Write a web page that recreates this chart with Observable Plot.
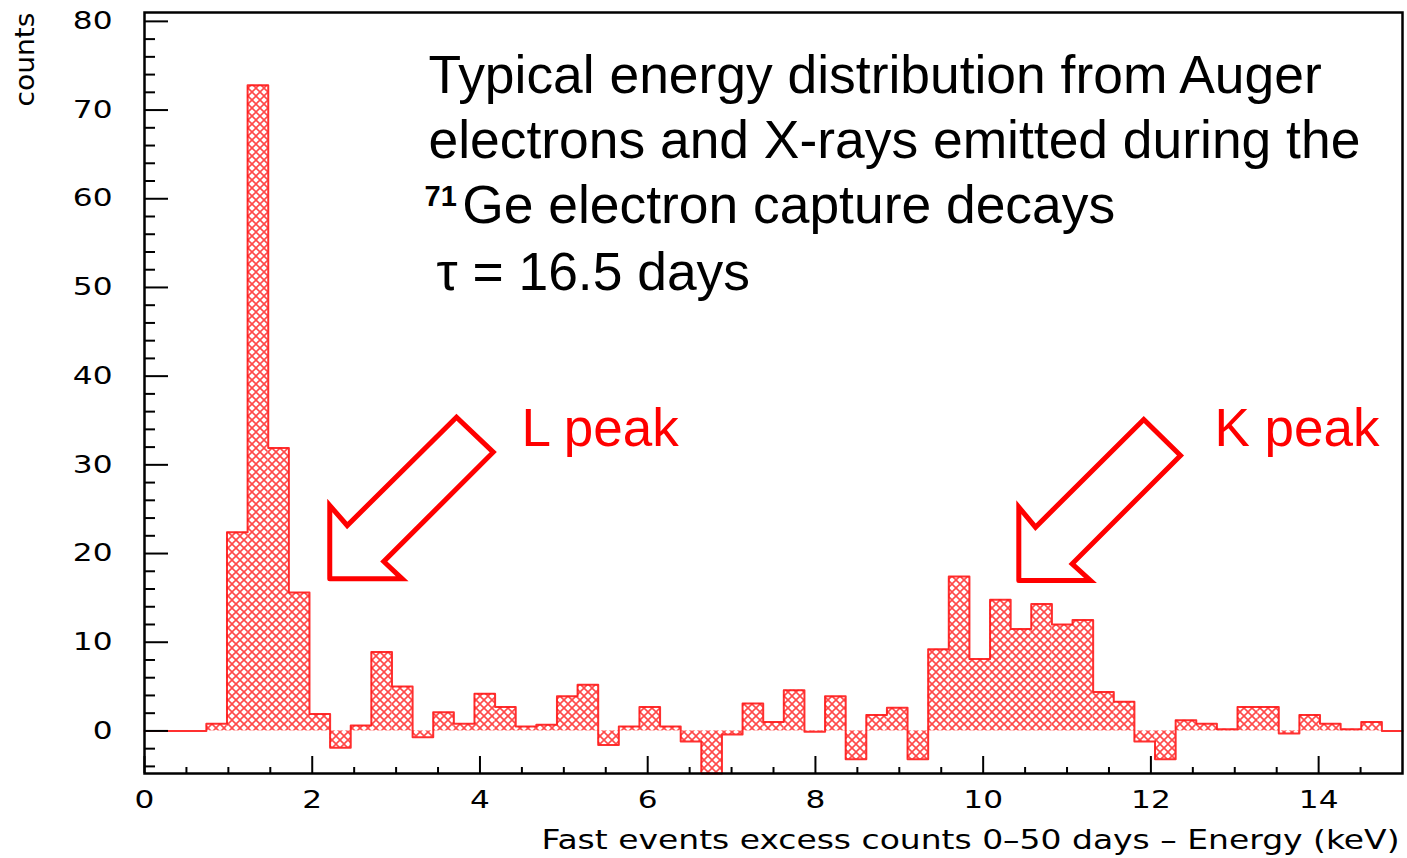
<!DOCTYPE html>
<html>
<head>
<meta charset="utf-8">
<script src="https://cdn.jsdelivr.net/npm/d3@7"></script>
<script src="https://cdn.jsdelivr.net/npm/@observablehq/plot@0.6"></script>
<style>
  html, body { margin: 0; padding: 0; background: #ffffff; }
  #chart svg { display: block; }
</style>
</head>
<body>
<div id="chart"></div>
<script>
// ---- Data ----
const energyMin = 0;          // keV
const energyMax = 15;         // keV
const binCount = 61;          // histogram bins across 0–15 keV
const counts = [
  0, 0, 0, 0.8, 22.4, 72.8, 31.9, 15.6, 1.9, -1.9,
  0.6, 8.9, 5.0, -0.7, 2.1, 0.8, 4.2, 2.7, 0.5, 0.7,
  3.9, 5.2, -1.6, 0.5, 2.7, 0.5, -1.2, -4.8, -0.4, 3.1,
  1.0, 4.6, -0.1, 3.9, -3.2, 1.8, 2.6, -3.2, 9.2, 17.4,
  8.1, 14.8, 11.5, 14.3, 12.0, 12.5, 4.4, 3.3, -1.2, -3.2,
  1.2, 0.8, 0.2, 2.7, 2.7, -0.3, 1.8, 0.8, 0.2, 1.0,
  0
];
const xMajorTicks = [0, 2, 4, 6, 8, 10, 12, 14];
const xMinorTicks = [0.5, 1, 1.5, 2.5, 3, 3.5, 4.5, 5, 5.5, 6.5, 7, 7.5, 8.5, 9, 9.5, 10.5, 11, 11.5, 12.5, 13, 13.5, 14.5];
const yMajorTicks = [0, 10, 20, 30, 40, 50, 60, 70, 80];
const yMinorTicks = [-4, -2, 2, 4, 6, 8, 12, 14, 16, 18, 22, 24, 26, 28, 32, 34, 36, 38, 42, 44, 46, 48, 52, 54, 56, 58, 62, 64, 66, 68, 72, 74, 76, 78];
const yAxisTitle = "counts";
const xAxisTitle = "Fast events excess counts 0–50 days – Energy (keV)";
const titleLines = ["Typical energy distribution from Auger", "electrons and X-rays emitted during the"];
const isotopeMass = "71";
const titleLine3 = "Ge electron capture decays";
const lifetimeText = "τ = 16.5 days";
const peakLabels = ["L peak", "K peak"];
// annotation anchors (keV, counts)
const titleX = [3.386, 3.386];
const titleY = [76.18, 68.85];
const isotopeX = 3.340, isotopeY = 61.55;
const line3X = 3.788, line3Y = 61.52;
const lifetimeX = 3.482, lifetimeY = 54.01;
const peakLabelX = [4.495, 12.758];
const peakLabelY = [36.34, 36.34];
// block-arrow outlines (keV, counts)
const lArrowX = [2.209, 2.209, 2.417, 3.720, 4.158, 2.853, 3.073, 2.209];
const lArrowY = [17.15, 25.42, 23.16, 35.37, 31.43, 19.10, 17.15, 17.15];
const kArrowX = [10.425, 10.425, 10.624, 11.915, 12.353, 11.061, 11.279, 10.425];
const kArrowY = [16.96, 25.23, 22.97, 35.11, 31.06, 18.84, 16.96, 16.96];

// ---- Derived tables ----
const binWidth = (energyMax - energyMin) / binCount;
const bins = counts.map((c, i) => ({x1: energyMin + i * binWidth, x2: energyMin + (i + 1) * binWidth, c}));
const steps = bins.flatMap(b => [{x: b.x1, y: b.c}, {x: b.x2, y: b.c}]);
const arrows = [
  ...lArrowX.map((x, i) => ({x, y: lArrowY[i], g: "L"})),
  ...kArrowX.map((x, i) => ({x, y: kArrowY[i], g: "K"}))
];

const RED = "#ff1a1a";
const tickFont = "DejaVu Sans";
const STRETCH = 1.3; // ROOT-style wide glyphs

const svg = Plot.plot({
  width: 1407,
  height: 858,
  marginLeft: 144,
  marginRight: 5,
  marginTop: 12,
  marginBottom: 85,
  style: {background: "#ffffff", fontFamily: "Liberation Sans, Arial, sans-serif"},
  x: {domain: [energyMin, energyMax]},
  y: {domain: [-4.8, 81]},
  marks: [
    Plot.rectY(bins, {x1: "x1", x2: "x2", y1: 0, y2: "c", fill: "url(#hatch)", inset: 0}),
    Plot.line(steps, {x: "x", y: "y", stroke: RED, strokeWidth: 2, strokeOpacity: 0.9}),
    Plot.line(arrows, {x: "x", y: "y", z: "g", stroke: "#ff0000", strokeWidth: 5, strokeLinejoin: "miter", strokeMiterlimit: 10}),
    Plot.text(titleLines, {x: (d, i) => titleX[i], y: (d, i) => titleY[i], text: d => d, textAnchor: "start", lineAnchor: "top", fontSize: 53.4, fill: "#000"}),
    Plot.text([isotopeMass], {x: isotopeX, y: isotopeY, text: d => d, textAnchor: "start", lineAnchor: "top", fontSize: 29, fontWeight: "bold", fill: "#000"}),
    Plot.text([titleLine3], {x: line3X, y: line3Y, text: d => d, textAnchor: "start", lineAnchor: "top", fontSize: 53.4, fill: "#000"}),
    Plot.text([lifetimeText], {x: lifetimeX, y: lifetimeY, text: d => d, textAnchor: "start", lineAnchor: "top", fontSize: 53.4, fill: "#000"}),
    Plot.text(peakLabels, {x: (d, i) => peakLabelX[i], y: (d, i) => peakLabelY[i], text: d => d, textAnchor: "start", lineAnchor: "top", fontSize: 53, fill: "#ff0000"}),
    // axes
    Plot.axisY({ticks: yMajorTicks, tickSize: 0, tickPadding: 32, label: null, fontFamily: tickFont, fontSize: 24}),
    Plot.axisY({ticks: yMajorTicks, tickSize: -24, tickFormat: () => "", label: null, strokeWidth: 2}),
    Plot.axisY({ticks: yMinorTicks, tickSize: -11, tickFormat: () => "", label: null, strokeWidth: 2}),
    Plot.axisX({ticks: xMajorTicks, tickSize: 0, tickPadding: 17, label: null, fontFamily: tickFont, fontSize: 24}),
    Plot.axisX({ticks: xMajorTicks, tickSize: -17, tickFormat: () => "", label: null, strokeWidth: 2}),
    Plot.axisX({ticks: xMinorTicks, tickSize: -6, tickFormat: () => "", label: null, strokeWidth: 2}),
    Plot.text([yAxisTitle], {frameAnchor: "top-left", text: d => d, rotate: -90, textAnchor: "end", dx: -129, dy: 0, fontSize: 26, fontFamily: tickFont, fill: "#000"}),
    Plot.text([xAxisTitle], {frameAnchor: "bottom-right", text: d => d, textAnchor: "end", lineAnchor: "top", dy: 56, dx: -3, fontSize: 27, fontFamily: tickFont, fill: "#000"}),
    Plot.frame({stroke: "#000", strokeWidth: 2.5})
  ]
});

// hatch pattern definition
const ns = "http://www.w3.org/2000/svg";
const defs = document.createElementNS(ns, "defs");
const pat = document.createElementNS(ns, "pattern");
pat.setAttribute("id", "hatch");
pat.setAttribute("patternUnits", "userSpaceOnUse");
pat.setAttribute("width", "8");
pat.setAttribute("height", "8");
const bg = document.createElementNS(ns, "rect");
bg.setAttribute("width", "8"); bg.setAttribute("height", "8"); bg.setAttribute("fill", "#ffffff");
pat.appendChild(bg);
for (const d of ["M-2,-2 L10,10", "M-2,10 L10,-2", "M-6,2 L2,10", "M6,-2 L14,6", "M-6,6 L2,-2", "M6,10 L14,2"]) {
  const p = document.createElementNS(ns, "path");
  p.setAttribute("d", d);
  p.setAttribute("stroke", "#ff4a4a");
  p.setAttribute("stroke-width", "1.6");
  pat.appendChild(p);
}
defs.appendChild(pat);
svg.insertBefore(defs, svg.firstChild);

// ROOT-style wide axis text: stretch tick labels horizontally about their anchor
svg.querySelectorAll('[aria-label="y-axis tick label"] text, [aria-label="x-axis tick label"] text').forEach(t => {
  const tr = t.getAttribute("transform");
  if (tr) t.setAttribute("transform", tr + ` scale(${STRETCH},1)`);
});
svg.querySelectorAll("text").forEach(t => {
  if (t.textContent === xAxisTitle) { t.setAttribute("textLength", "858"); t.setAttribute("lengthAdjust", "spacingAndGlyphs"); }
  if (t.textContent === yAxisTitle) { t.setAttribute("textLength", "94"); t.setAttribute("lengthAdjust", "spacingAndGlyphs"); }
});

document.getElementById("chart").appendChild(svg);
</script>
</body>
</html>
